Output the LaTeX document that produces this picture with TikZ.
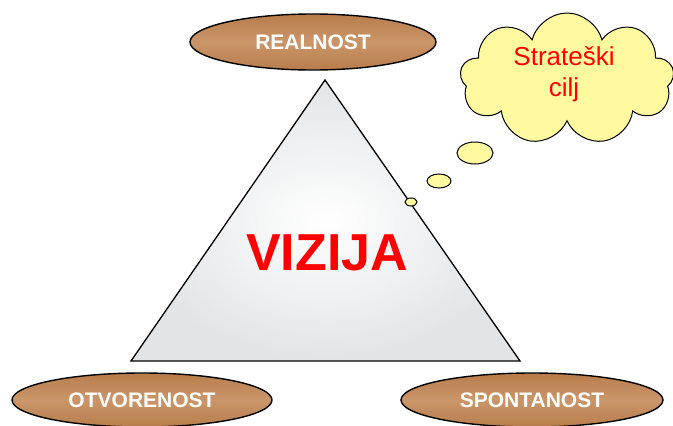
\documentclass[tikz,border=0pt]{standalone}
\usepackage{fontspec}
\setmainfont{Liberation Sans}
\usetikzlibrary{positioning, shapes.geometric, shapes.symbols}

\definecolor{wood}{RGB}{196,138,88}
\definecolor{wooddark}{RGB}{184,124,76}
\definecolor{marble}{RGB}{226,228,230}
\definecolor{thought}{RGB}{255,250,160}

\begin{document}
\begin{tikzpicture}[x=1pt, y=-1pt,
  plank/.style={draw=black, line width=1.4pt, ellipse, top color=wooddark, bottom color=wooddark,
                middle color=wood!90!white, inner sep=0pt,
                text=white, font=\fontsize{21}{23}\selectfont\bfseries},
  bubble/.style={draw=black, line width=1pt, ellipse, fill=thought, inner sep=0pt},
  stone/.style={draw=black, line width=1.3pt, inner color=white, outer color=marble},
]

\useasboundingbox (0,0) rectangle (673,426);

% --- Triangle ---
\coordinate (apex)  at (325,80);
\coordinate (right) at (520,361);
\coordinate (left)  at (131,361);
\draw[stone] (apex) -- (right) -- (left) -- cycle;
\node[text=red, font=\fontsize{52}{56}\selectfont\bfseries] (vizija) at (327,253) {VIZIJA};

% --- Wooden ellipses ---
\node[plank, minimum width=246, minimum height=56] (realnost)    at (313,42)  {REALNOST};
\node[plank, minimum width=260, minimum height=54] (otvorenost)  at (142,400) {OTVORENOST};
\node[plank, minimum width=262, minimum height=54] (spontanost)  at (532,400) {SPONTANOST};

% --- Thought cloud ---
\node[cloud, cloud puffs=9, aspect=1.7, draw=black, line width=1pt, fill=thought,
      minimum width=214, minimum height=132, inner sep=0pt] (cilj) at (567,79) {};
\node[text=red, align=center, font=\fontsize{26}{31}\selectfont] (ciljtext) at (564,74) {Strateški\\cilj};

\node[bubble, minimum width=36, minimum height=22] (b1) at (475,153) {};
\node[bubble, minimum width=24, minimum height=14] (b2) at (439,181) {};
\node[bubble, minimum width=12, minimum height=8]  (b3) at (411,202) {};

\end{tikzpicture}
\end{document}
